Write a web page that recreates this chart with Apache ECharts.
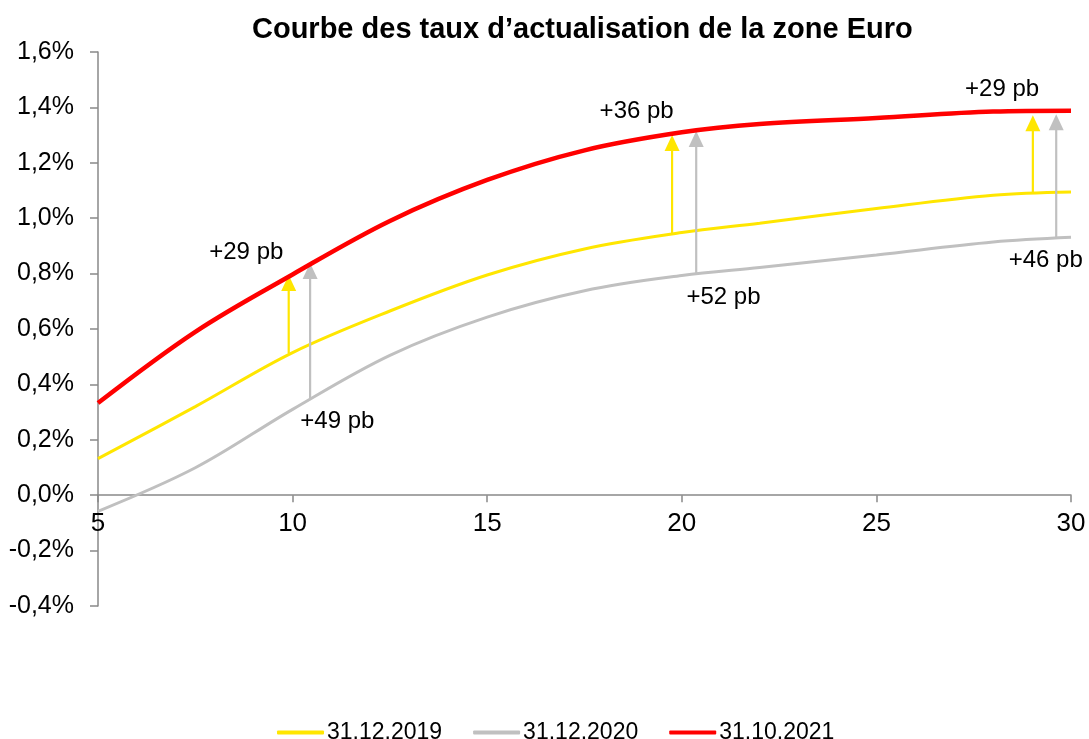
<!DOCTYPE html>
<html>
<head>
<meta charset="utf-8">
<script src="https://cdn.jsdelivr.net/npm/echarts@6/dist/echarts.min.js"></script>
<style>html,body{margin:0;padding:0;background:#fff}#c{width:1089px;height:739px}</style>
</head>
<body>
<div id="c"></div>
<script>
var title = 'Courbe des taux d\u2019actualisation de la zone Euro';
var seriesNames = ['31.12.2019', '31.12.2020', '31.10.2021'];
var maturities = [5, 7.5, 10, 12.5, 15, 17.5, 20, 22, 25, 28, 30];
var rates2019 = [0.132, 0.32, 0.515, 0.665, 0.795, 0.889, 0.948, 0.982, 1.035, 1.083, 1.095];
var rates2020 = [-0.058, 0.099, 0.31, 0.505, 0.643, 0.738, 0.793, 0.822, 0.867, 0.914, 0.931];
var rates2021 = [0.333, 0.59, 0.797, 0.99, 1.138, 1.245, 1.31, 1.34, 1.362, 1.385, 1.388];
// arrows: [maturity, from, to]
var arrows2019 = [[9.9, 0.513, 0.795], [19.75, 0.944, 1.30], [29.02, 1.094, 1.372]];
var arrows2020 = [[10.45, 0.35, 0.838], [20.37, 0.797, 1.315], [29.62, 0.932, 1.375]];
// annotation labels: [maturity, rate, text]
var notes = [[8.81, 0.877, '+29 pb'], [11.15, 0.268, '+49 pb'], [18.84, 1.385, '+36 pb'], [21.07, 0.715, '+52 pb'], [28.23, 1.465, '+29 pb'], [29.35, 0.849, '+46 pb']];
var yTicks = {min: -0.4, max: 1.6, interval: 0.2};
var xTicks = {min: 5, max: 30, interval: 5};

var FONT = 'Liberation Sans, Arial, sans-serif';
var AXIS = '#898989';
var colors = ['#FFE600', '#C0C0C0', '#FF0000'];
var GRID = {left: 98, right: 18, top: 52, bottom: 133};
var plotH = 739 - GRID.top - GRID.bottom;
var xAxisOffset = -plotH * (0 - yTicks.min) / (yTicks.max - yTicks.min);

function zip(xs, ys) { return xs.map(function (x, i) { return [x, ys[i]]; }); }

function arrowSeries(data, color) {
  return {
    type: 'custom', silent: true, z: 4,
    data: data,
    encode: {x: 0, y: [1, 2]},
    renderItem: function (params, api) {
      var p0 = api.coord([api.value(0), api.value(1)]);
      var p1 = api.coord([api.value(0), api.value(2)]);
      var hw = 7.5, hh = 16;
      return {type: 'group', children: [
        {type: 'line', shape: {x1: p0[0], y1: p0[1], x2: p1[0], y2: p1[1] + hh - 1}, style: {stroke: color, lineWidth: 2.2}},
        {type: 'polygon', shape: {points: [[p1[0], p1[1]], [p1[0] - hw, p1[1] + hh], [p1[0] + hw, p1[1] + hh]]}, style: {fill: color}}
      ]};
    }
  };
}

function noteSeries(data) {
  return {
    type: 'custom', silent: true, z: 6,
    data: data,
    encode: {x: 0, y: 1},
    renderItem: function (params, api) {
      var p = api.coord([api.value(0), api.value(1)]);
      return {type: 'text', x: p[0], y: p[1],
        style: {text: data[params.dataIndex][2], fill: '#000', font: '24px ' + FONT,
          align: 'center', verticalAlign: 'middle'}};
    }
  };
}

var chart = echarts.init(document.getElementById('c'));
chart.setOption({
  animation: false,
  backgroundColor: '#fff',
  title: {text: title, left: 247, top: 10,
    textStyle: {fontFamily: FONT, fontSize: 29, fontWeight: 'bold', color: '#000'}},
  legend: {top: 716, left: 272, itemWidth: 47, itemHeight: 4, itemGap: 31, icon: 'roundRect',
    textStyle: {fontFamily: FONT, fontSize: 23, color: '#000', padding: [0, 0, 0, -2]},
    data: seriesNames},
  grid: {left: GRID.left, right: GRID.right, top: GRID.top, bottom: GRID.bottom, containLabel: false},
  xAxis: {type: 'value', min: xTicks.min, max: xTicks.max, interval: xTicks.interval,
    offset: xAxisOffset,
    axisLine: {onZero: false, lineStyle: {color: AXIS, width: 1.5}},
    axisTick: {show: true, length: 7, lineStyle: {color: AXIS, width: 1.5}},
    axisLabel: {fontFamily: FONT, fontSize: 26, color: '#000', margin: 16},
    splitLine: {show: false}},
  yAxis: {type: 'value', min: yTicks.min, max: yTicks.max, interval: yTicks.interval,
    axisLine: {show: true, lineStyle: {color: AXIS, width: 1.5}},
    axisTick: {show: true, length: 8, lineStyle: {color: AXIS, width: 1.5}},
    axisLabel: {fontFamily: FONT, fontSize: 25, color: '#000', margin: 24,
      formatter: function (v) { return v.toFixed(1).replace('.', ',') + '%'; }},
    splitLine: {show: false}},
  series: [
    {name: seriesNames[0], type: 'line', data: zip(maturities, rates2019), smooth: 0.35, showSymbol: false, symbol: 'none',
      lineStyle: {color: colors[0], width: 3}, itemStyle: {color: colors[0]}, z: 3},
    {name: seriesNames[1], type: 'line', data: zip(maturities, rates2020), smooth: 0.35, showSymbol: false, symbol: 'none',
      lineStyle: {color: colors[1], width: 3}, itemStyle: {color: colors[1]}, z: 3},
    {name: seriesNames[2], type: 'line', data: zip(maturities, rates2021), smooth: 0.35, showSymbol: false, symbol: 'none',
      lineStyle: {color: colors[2], width: 4.5}, itemStyle: {color: colors[2]}, z: 5},
    arrowSeries(arrows2019, colors[0]),
    arrowSeries(arrows2020, colors[1]),
    noteSeries(notes)
  ]
});
</script>
</body>
</html>
